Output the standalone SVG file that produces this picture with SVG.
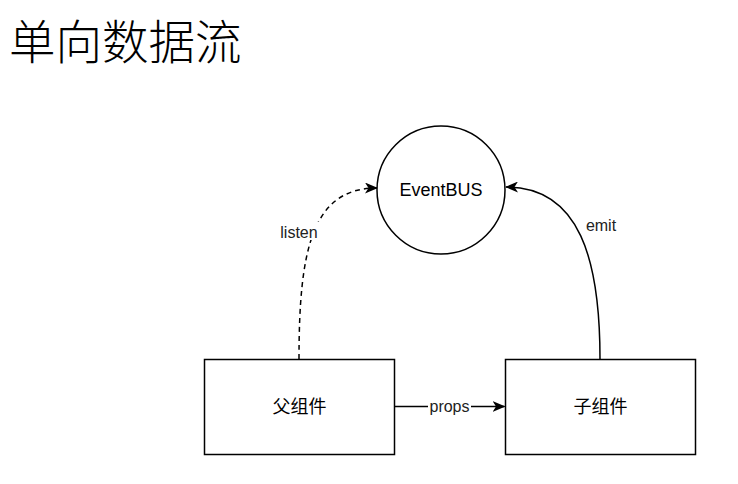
<svg xmlns="http://www.w3.org/2000/svg" width="738" height="484" viewBox="0 0 738 484">
<defs>
<style>
.shape{fill:#fff;stroke:#000;stroke-width:1.5}
.edge{fill:none;stroke:#000;stroke-width:1.5}
.dash{stroke-dasharray:5 4}
.lbl{font-family:"Liberation Sans","Noto Sans CJK SC",sans-serif;font-size:16px;fill:#222;text-anchor:middle}
.node{font-family:"Liberation Sans","Noto Sans CJK SC",sans-serif;font-size:18px;fill:#000;text-anchor:middle}
.title{font-family:"Noto Sans CJK SC",sans-serif;font-size:46.5px;font-weight:300;fill:#000}
</style>
<marker id="arr" viewBox="0 0 13 11" refX="12" refY="5.5" markerWidth="13" markerHeight="11" markerUnits="userSpaceOnUse" orient="auto">
<path d="M0,0 L13,5.5 L0,11 L3.5,5.5 Z" fill="#000"/>
</marker>
</defs>
<rect width="738" height="484" fill="#fff"/>
<text class="title" x="9" y="59">单向数据流</text>
<g id="connectors">
<path class="edge dash" d="M299,359 C299,250 312,188 377,188" marker-end="url(#arr)"/>
<path class="edge" d="M600,359 C600,260 580,187 506,187" marker-end="url(#arr)"/>
<path class="edge" d="M394.5,406.5 L504.5,406.5" marker-end="url(#arr)"/>
<rect x="280" y="222" width="40" height="18" fill="#fff"/>
<text class="lbl" x="299" y="238">listen</text>
<text class="lbl" x="601" y="231">emit</text>
<rect x="428" y="398" width="43" height="17" fill="#fff"/>
<text class="lbl" x="449.5" y="412">props</text>
</g>
<g id="eventbus">
<circle class="shape" cx="441" cy="190" r="64"/>
<text class="node" x="441" y="196">EventBUS</text>
</g>
<g id="parent">
<rect class="shape" x="204.5" y="359.5" width="190" height="95"/>
<text class="node" x="299.5" y="413">父组件</text>
</g>
<g id="child">
<rect class="shape" x="505.5" y="359.5" width="190" height="95"/>
<text class="node" x="600.5" y="413">子组件</text>
</g>
</svg>
